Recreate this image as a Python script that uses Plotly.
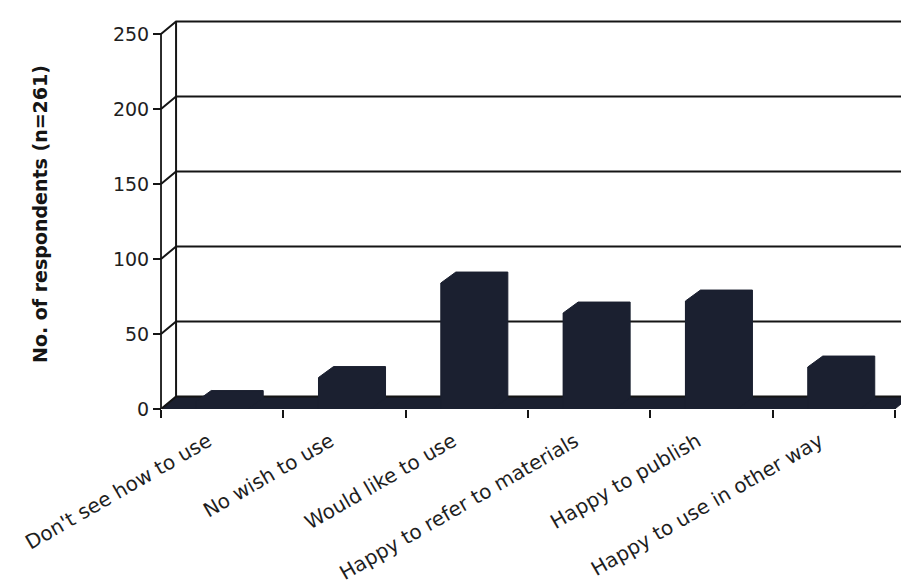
import plotly.graph_objects as go

categories = ["Don't see how to use", "No wish to use", "Would like to use",
              "Happy to refer to materials", "Happy to publish", "Happy to use in other way"]
values = [5, 21, 84, 64, 72, 28]
y_ticks = [0, 50, 100, 150, 200, 250]
y_title = "No. of respondents (n=261)"

# 3-D look (offsets in data units)
FLOOR_DX, FLOOR_DY = 0.123, 8.3
BAR_DX, BAR_DY = 0.123, 7.3
BAR_W = 0.425
XMIN, XMAX = -0.541, 5.55
YMAX = 260

BAR_COL = "#1b2030"
LINE_COL = "#151515"
TXT_COL = "#1e1e1e"
FONT = "DejaVu Sans"

xs = list(range(len(categories)))
fig = go.Figure()

# floor
fig.add_trace(go.Scatter(
    x=[-0.5, len(categories) - 0.5, len(categories) - 0.5 + FLOOR_DX, -0.5 + FLOOR_DX, -0.5],
    y=[0, 0, FLOOR_DY, FLOOR_DY, 0],
    fill="toself", fillcolor=BAR_COL, mode="lines",
    line=dict(color=BAR_COL, width=1), hoverinfo="skip", showlegend=False))

# back wall gridlines + diagonal connectors
gx, gy = [], []
for v in y_ticks:
    gx += [-0.5, -0.5 + FLOOR_DX, XMAX + 1, None]
    gy += [v, v + FLOOR_DY, v + FLOOR_DY, None]
gx += [-0.5 + FLOOR_DX, -0.5 + FLOOR_DX]
gy += [FLOOR_DY, y_ticks[-1] + FLOOR_DY]
fig.add_trace(go.Scatter(x=gx, y=gy, mode="lines", line=dict(color=LINE_COL, width=2),
                         hoverinfo="skip", showlegend=False))

# front left axis line
fig.add_trace(go.Scatter(x=[-0.5, -0.5], y=[0, y_ticks[-1]], mode="lines",
                         line=dict(color=LINE_COL, width=1.8), hoverinfo="skip", showlegend=False))

# bar silhouettes (front, top and right side faces)
ex, ey = [], []
for x, v in zip(xs, values):
    x0, x1 = x - BAR_W / 2, x + BAR_W / 2
    ex += [x0, x0, x0 + BAR_DX, x1 + BAR_DX, x1 + BAR_DX, x1, x0, None]
    ey += [0, v, v + BAR_DY, v + BAR_DY, BAR_DY, 0, 0, None]
fig.add_trace(go.Scatter(x=ex, y=ey, fill="toself", fillcolor=BAR_COL, mode="lines",
                         line=dict(color=BAR_COL, width=1), hoverinfo="skip", showlegend=False))

# bar front faces
fig.add_trace(go.Bar(x=xs, y=values, width=BAR_W, marker=dict(color=BAR_COL, line=dict(width=0)),
                     showlegend=False, hoverinfo="y"))

fig.add_annotation(text=y_title, textangle=-90, xref="paper", yref="paper",
                   x=(40 - 156) / 745, y=0.5, xanchor="center", yanchor="middle",
                   showarrow=False,
                   font=dict(family=FONT, size=19, color="#151515", weight="bold"))

fig.update_layout(
    width=901, height=585,
    margin=dict(l=156, r=0, t=19, b=176),
    paper_bgcolor="white", plot_bgcolor="white",
    bargap=0,
    xaxis=dict(range=[XMIN, XMAX], tickmode="array", tickvals=xs, ticktext=categories,
               tickangle=-30, ticks="", showgrid=False, zeroline=False, showline=False,
               tickfont=dict(family=FONT, size=20, color=TXT_COL),
               ticklabelstandoff=16, ticklabelshift=-14,
               minor=dict(tickmode="array", tickvals=[i - 0.5 for i in range(len(categories) + 1)],
                          ticks="outside", ticklen=8, tickwidth=1.5, tickcolor=LINE_COL,
                          showgrid=False)),
    yaxis=dict(range=[0, YMAX], tickmode="array", tickvals=y_ticks, ticks="outside",
               ticklen=8, tickwidth=1.5, tickcolor=LINE_COL, showgrid=False, zeroline=False,
               showline=False, anchor="free", position=5 / 745,
               tickfont=dict(family=FONT, size=19, color=TXT_COL)),
)

fig.write_html("out.html", config={"displayModeBar": False},
               post_script="document.body.style.margin='0';")
